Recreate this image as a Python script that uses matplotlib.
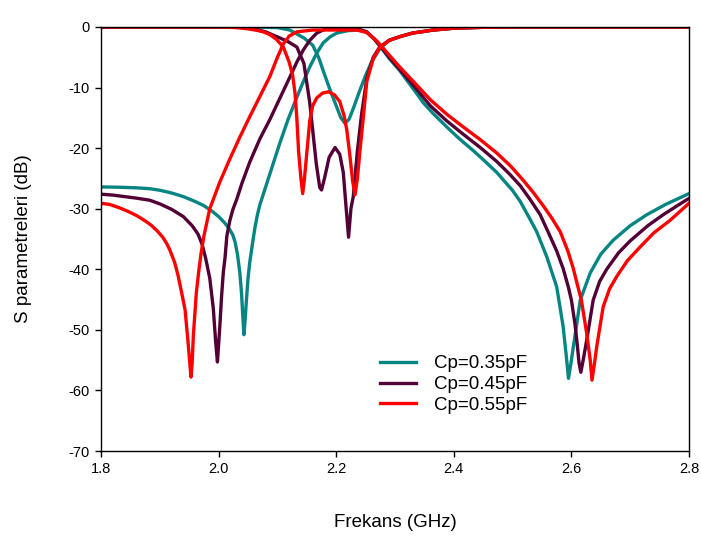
import matplotlib
matplotlib.use("Agg")
import matplotlib.pyplot as plt

plt.rcParams['font.family'] = ['Liberation Sans', 'DejaVu Sans']

labels = ["Cp=0.35pF", "Cp=0.45pF", "Cp=0.55pF"]
colors = ["#078582", "#520035", "#FF0000"]

# S21 (transmission), GHz / dB
s21_035_f = [1.800, 1.830, 1.860, 1.883, 1.900, 1.920, 1.940, 1.960, 1.975, 1.990, 2.000, 2.010,
             2.018, 2.024, 2.028, 2.032, 2.036, 2.039, 2.041, 2.043, 2.045, 2.047, 2.050, 2.053,
             2.058, 2.062, 2.066, 2.070, 2.076, 2.083, 2.090, 2.097, 2.104, 2.118, 2.133, 2.145,
             2.155, 2.167, 2.178, 2.190, 2.201, 2.220, 2.240,
             2.252, 2.265, 2.277, 2.291, 2.308, 2.337, 2.348, 2.365, 2.388, 2.410, 2.433, 2.450,
             2.473, 2.500, 2.513, 2.530, 2.541, 2.558, 2.575, 2.586, 2.592, 2.595, 2.600, 2.603,
             2.615, 2.632, 2.650, 2.671, 2.700, 2.728, 2.760, 2.800]
s21_035_db = [-26.4, -26.45, -26.55, -26.7, -26.95, -27.4, -28.0, -28.8, -29.5, -30.5, -31.3, -32.3,
              -33.3, -34.3, -35.5, -37.5, -40.5, -44.0, -47.5, -50.8, -48.5, -45.5, -41.5, -38.8,
              -35.5, -33.0, -31.0, -29.4, -27.6, -25.5, -23.4, -21.3, -19.2, -15.3, -11.6, -8.8,
              -6.6, -4.3, -2.6, -1.6, -1.0, -0.6, -0.5,
              -0.9, -2.0, -3.5, -5.3, -7.2, -11.0, -12.5, -14.3, -16.5, -18.5, -20.4, -21.9,
              -24.0, -27.0, -28.8, -31.8, -33.8, -37.9, -42.9, -49.5, -55.0, -58.0, -55.0, -53.0,
              -45.1, -40.6, -37.5, -35.2, -32.8, -31.0, -29.3, -27.5]

s21_045_f = [1.800, 1.820, 1.840, 1.860, 1.883, 1.900, 1.920, 1.940, 1.955, 1.965, 1.972, 1.978,
             1.985, 1.991, 1.995, 1.998,
             2.002, 2.005, 2.008, 2.011, 2.014, 2.019, 2.024, 2.031, 2.040, 2.048, 2.053, 2.070,
             2.087, 2.104, 2.121, 2.133, 2.144, 2.155, 2.167, 2.180, 2.200, 2.230, 2.240,
             2.252, 2.265, 2.277, 2.291, 2.308, 2.337, 2.360, 2.388, 2.416, 2.445, 2.473, 2.495,
             2.513, 2.530, 2.547, 2.564, 2.575, 2.586, 2.595, 2.600, 2.606, 2.610, 2.613, 2.616,
             2.620, 2.626, 2.637, 2.648, 2.660, 2.680, 2.700, 2.730, 2.756, 2.780, 2.800]
s21_045_db = [-27.6, -27.75, -28.0, -28.25, -28.6, -29.2, -30.1, -31.3, -32.8, -34.2, -35.9, -38.2,
              -41.5, -46.5, -52.0, -55.3,
              -49.5, -44.5, -40.5, -38.0, -34.5, -32.0, -30.2, -28.4, -25.7, -23.6, -22.3, -18.5,
              -15.3, -11.8, -8.3, -5.8, -3.8, -2.2, -1.0, -0.4, -0.2, -0.2, -0.4,
              -0.8, -2.0, -3.4, -5.1, -7.0, -10.3, -13.0, -15.5, -17.7, -19.9, -22.2, -24.3,
              -26.2, -28.5, -31.0, -34.6, -37.0, -39.9, -43.0, -45.1, -49.0, -52.5, -55.5, -57.0,
              -55.0, -51.7, -45.1, -42.0, -40.0, -37.3, -35.3, -32.8, -31.0, -29.5, -28.3]

s21_055_f = [1.800, 1.815, 1.830, 1.845, 1.860, 1.875, 1.885, 1.895, 1.905, 1.912, 1.917, 1.925,
             1.931, 1.937, 1.943, 1.948, 1.951, 1.953, 1.955, 1.957, 1.962, 1.966, 1.970, 1.975,
             1.985, 2.002, 2.019, 2.036,
             2.053, 2.070, 2.087, 2.100, 2.110, 2.120, 2.133, 2.160, 2.200, 2.235,
             2.252, 2.269, 2.280, 2.297, 2.308, 2.337, 2.360, 2.388, 2.416, 2.445, 2.473, 2.497,
             2.518, 2.535, 2.552, 2.567, 2.581, 2.594, 2.603, 2.610, 2.617, 2.626, 2.632, 2.635,
             2.640, 2.643, 2.654, 2.665, 2.677, 2.695, 2.717, 2.740, 2.768, 2.800]
s21_055_db = [-29.1, -29.3, -29.8, -30.4, -31.1, -32.0, -32.7, -33.6, -34.7, -35.8, -36.8, -38.8,
              -41.0, -43.8, -46.7, -52.0, -55.5, -57.8, -55.5, -51.0, -44.0, -40.5, -37.5, -34.5,
              -30.0, -25.6, -21.8, -18.2,
              -14.8, -11.5, -8.2, -5.0, -2.8, -1.5, -0.8, -0.5, -0.5, -0.5,
              -0.9, -2.3, -3.5, -5.4, -6.6, -9.6, -12.0, -14.4, -16.5, -18.6, -20.8, -23.0,
              -25.3, -27.3, -29.5, -31.6, -33.8, -37.0, -39.8, -42.5, -45.1, -50.6, -55.0, -58.3,
              -55.0, -52.8, -46.2, -43.2, -41.2, -38.6, -36.3, -34.0, -31.9, -29.1]

# S11 (reflection), GHz / dB
s11_035_f = [1.800, 2.050, 2.100, 2.121, 2.145, 2.160, 2.170, 2.180, 2.190, 2.200, 2.208, 2.215,
             2.222, 2.230, 2.240, 2.250, 2.260, 2.274, 2.290, 2.308, 2.330, 2.365, 2.400, 2.450,
             2.500, 2.800]
s11_035_db = [0.0, 0.0, -0.1, -0.5, -1.8, -3.0, -5.0, -7.8, -10.5, -13.0, -15.0, -15.9,
              -15.2, -13.2, -10.5, -8.0, -5.8, -3.6, -2.2, -1.6, -1.0, -0.5, -0.2, -0.05,
              0.0, 0.0]

s11_045_f = [1.800, 2.030, 2.060, 2.080, 2.099, 2.116, 2.133, 2.145, 2.155, 2.160, 2.166, 2.172,
             2.175, 2.180, 2.188, 2.198, 2.206, 2.212, 2.217, 2.221, 2.225, 2.229, 2.236, 2.243,
             2.252, 2.263, 2.274, 2.290, 2.308, 2.330, 2.365, 2.400, 2.450, 2.500, 2.800]
s11_045_db = [0.0, 0.0, -0.3, -0.8, -1.6, -2.3, -3.3, -6.0, -12.5, -17.0, -22.5, -26.5,
              -26.9, -25.0, -21.5, -19.9, -21.0, -24.0, -30.0, -34.7, -30.0, -28.0, -20.5, -14.5,
              -8.5, -5.0, -3.3, -2.2, -1.6, -1.0, -0.5, -0.2, -0.05, 0.0, 0.0]

s11_055_f = [1.800, 2.000, 2.030, 2.050, 2.065, 2.076, 2.088, 2.099, 2.110, 2.120, 2.126, 2.130,
             2.133, 2.136, 2.140, 2.143, 2.146, 2.150, 2.155, 2.160, 2.167, 2.177, 2.187, 2.197,
             2.206, 2.213, 2.218, 2.223, 2.228, 2.232, 2.236, 2.240, 2.246, 2.252, 2.263, 2.274,
             2.290, 2.308, 2.330, 2.365, 2.400, 2.450, 2.500, 2.800]
s11_055_db = [0.0, 0.0, -0.1, -0.3, -0.55, -0.8, -1.3, -2.1, -3.3, -5.8, -8.0, -11.0,
              -15.0, -20.5, -25.0, -27.5, -25.0, -20.8, -15.5, -13.0, -11.7, -10.9, -10.7, -11.2,
              -12.3, -14.5, -17.0, -21.0, -25.5, -27.7, -25.0, -20.8, -15.0, -9.0, -5.2, -3.4,
              -2.2, -1.6, -1.0, -0.5, -0.2, -0.05, 0.0, 0.0]

x_ticks = [1.8, 2.0, 2.2, 2.4, 2.6, 2.8]
y_ticks = [0, -10, -20, -30, -40, -50, -60, -70]

fig = plt.figure(figsize=(7.01, 5.40), dpi=100)
ax = fig.add_axes([0.1441, 0.1648, 0.8388, 0.7852])

series = [
    (s21_035_f, s21_035_db, s11_035_f, s11_035_db),
    (s21_045_f, s21_045_db, s11_045_f, s11_045_db),
    (s21_055_f, s21_055_db, s11_055_f, s11_055_db),
]
handles = []
for (f21, d21, f11, d11), c, lab in zip(series, colors, labels):
    h, = ax.plot(f21, d21, color=c, lw=2.4, label=lab, solid_joinstyle='round')
    ax.plot(f11, d11, color=c, lw=2.4, solid_joinstyle='round')
    handles.append(h)

ax.set_xlim(1.8, 2.8)
ax.set_ylim(-70, 0)
ax.set_xticks(x_ticks)
ax.set_xticklabels([f"{t:.1f}" for t in x_ticks])
ax.set_yticks(y_ticks)
ax.set_yticklabels([str(t) for t in y_ticks])
ax.tick_params(direction='out', length=4, width=1, labelsize=10.5, colors='black', pad=4)
for s in ax.spines.values():
    s.set_linewidth(1.0)
    s.set_color('black')

ax.set_xlabel("Frekans (GHz)", fontsize=13.5)
ax.xaxis.set_label_coords(0.5, -0.148)
ax.set_ylabel("S parametreleri (dB)", fontsize=13.5)
ax.yaxis.set_label_coords(-0.118, 0.5)

ax.legend(handles=handles, loc='upper left', bbox_to_anchor=(0.4745, 0.226),
          frameon=False, fontsize=13.5, handlelength=1.9, handletextpad=1.0,
          labelspacing=0.2, borderaxespad=0, borderpad=0)

fig.savefig("out.png", dpi=100)
